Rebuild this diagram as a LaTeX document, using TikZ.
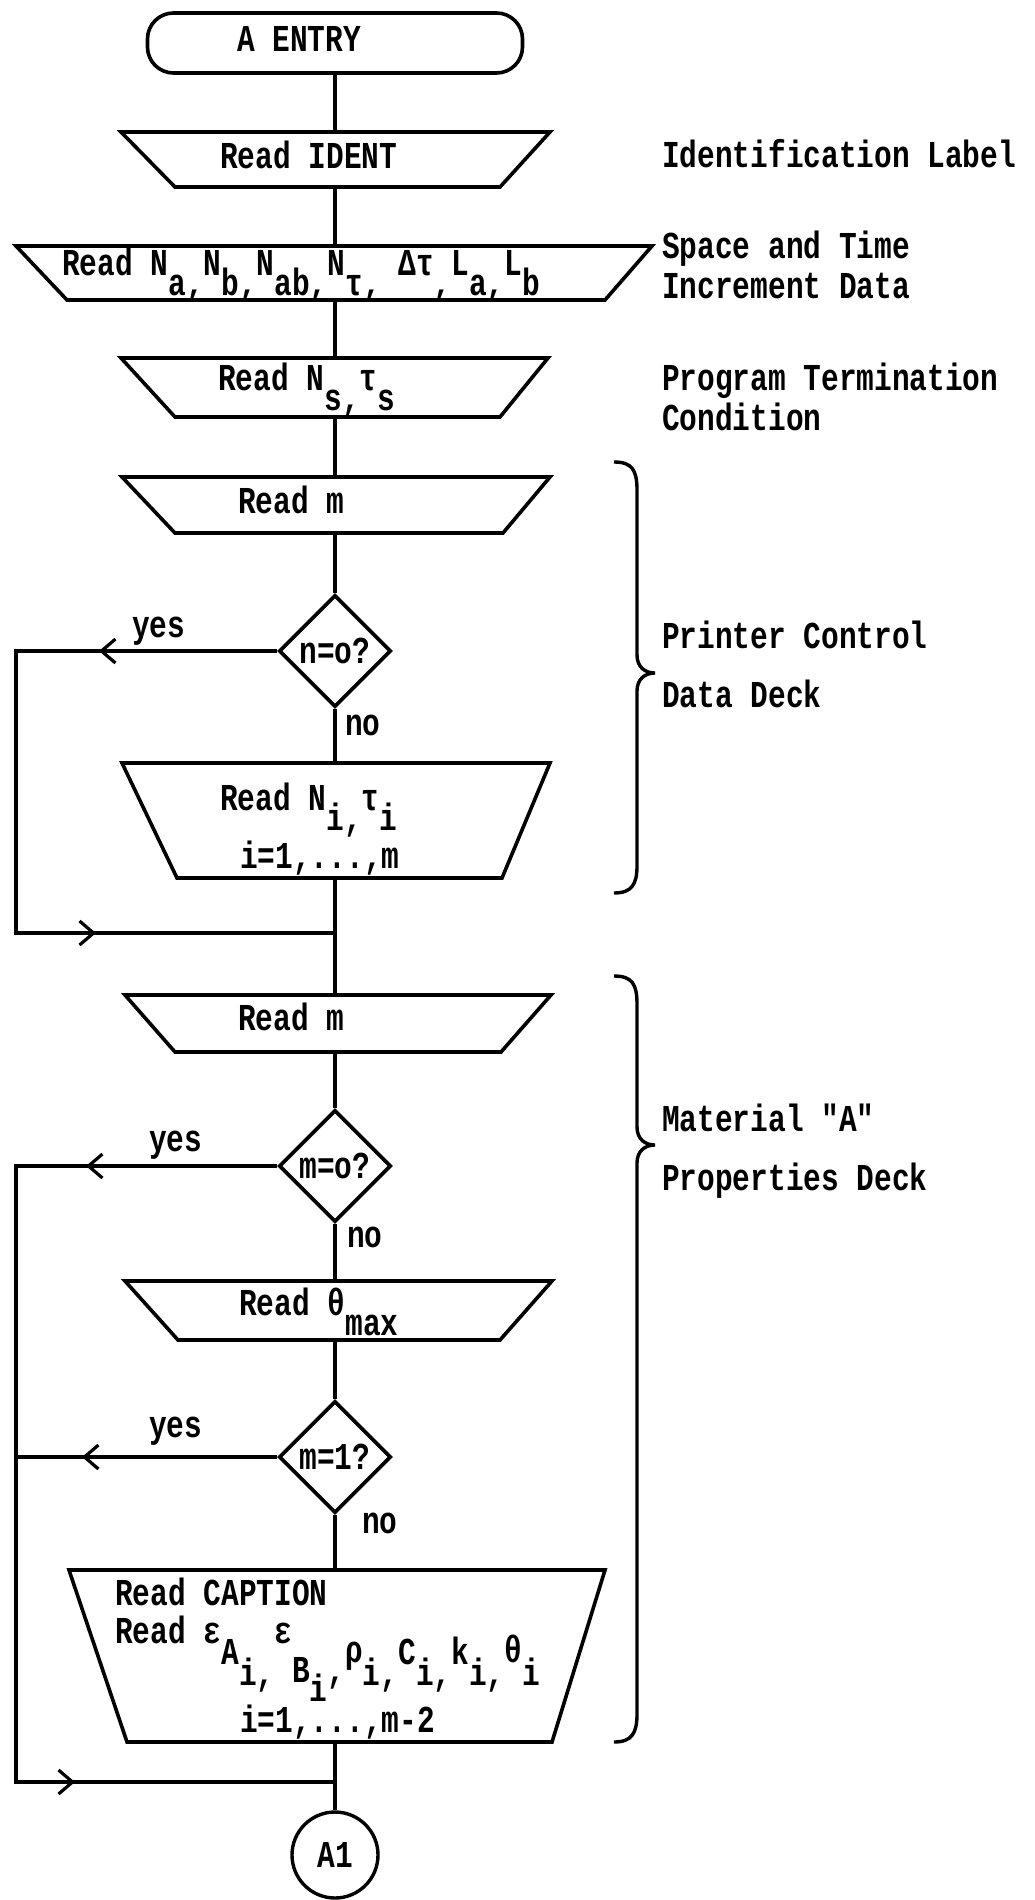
\documentclass[tikz,border=0pt]{standalone}
\usepackage{fontspec}
\setmainfont{Liberation Mono}[FakeStretch=0.776, Ligatures=TeXOff]
\usetikzlibrary{shapes.geometric,arrows.meta}
\newcommand{\lowr}[2][20pt]{\raisebox{-#1}{#2}}
\newcommand{\mytrap}[7]{%
  \draw[shp] (#3,#2) -- (#4,#2) -- (#7,#5) -- (#6,#5) -- cycle;
  \coordinate (#1-t) at (335,#2);
  \coordinate (#1-b) at (335,#5);}
\begin{document}
\begin{tikzpicture}[x=1pt,y=-1pt,
  ln/.style={line width=3.4pt},
  shp/.style={line width=3.6pt, line join=miter},
  arr/.style={line width=3.4pt,-{Straight Barb[length=14pt,width=24pt,line width=3.2pt]}},
  tx/.style={font=\bfseries\fontsize{38}{44}\selectfont, inner sep=0pt, anchor=base west},
  dia/.style={diamond, draw, line width=3.6pt, minimum width=112pt, minimum height=112pt, inner sep=0pt, font=\bfseries\fontsize{38}{44}\selectfont},
  term/.style={draw, line width=3.6pt, rounded corners=26pt, minimum width=375pt, minimum height=60pt, inner sep=0pt},
  conn/.style={circle, draw, line width=3.4pt, minimum size=86pt, inner sep=0pt, font=\bfseries\fontsize{38}{44}\selectfont}]
\fill[white] (0,0) rectangle (1034,1900);
\useasboundingbox (0,0) rectangle (1034,1900);
\coordinate (xleft) at (16,0);

% terminator
\node[term] (entry) at (335,43) {};
\node[tx] (entryT) at (237,52) {A ENTRY};

% trapezoids
\mytrap{ident}{132}{121}{550}{187}{175}{500}
\mytrap{na}{246}{16}{652}{300}{67}{605}
\mytrap{ns}{358}{121}{548}{417}{175}{500}
\mytrap{rm}{477}{122}{550}{533}{175}{503}
\mytrap{ni}{763}{122}{550}{878}{177}{502}
\mytrap{rmb}{995}{125}{551}{1052}{175}{501}
\mytrap{th}{1281}{125}{552}{1340}{178}{500}
\mytrap{cap}{1570}{69}{605}{1742}{127}{552}

% texts in boxes
\node[tx] (identT) at (220,168) {Read IDENT};
\node[tx] (naT) at (62,275) {Read N\lowr{a,}N\lowr{b,}N\lowr{ab,}N\lowr{τ,} Δτ\lowr{,}L\lowr{a,}L\lowr{b}};
\node[tx] (nsT) at (218,390) {Read N\lowr{s,}τ\lowr{s}};
\node[tx] (rmT) at (238,513) {Read m};
\node[tx] (niT) at (220,810) {Read N\lowr{i,}τ\lowr{i}};
\node[tx] (niT2) at (240,868) {i=1,...,m};
\node[tx] (rmbT) at (238,1030) {Read m};
\node[tx] (thT) at (239,1315) {Read θ\lowr{max}};
\node[tx] (capT1) at (115,1605) {Read CAPTION};
\node[tx] (capT2) at (115,1643) {Read ε\lowr[21pt]{A}\lowr[42pt]{i,}ε\lowr[39pt]{B}\lowr[58pt]{i}\lowr[39pt]{,}\lowr[19pt]{ρ}\lowr[42pt]{i,}\lowr[21pt]{C}\lowr[42pt]{i,}\lowr[21pt]{k}\lowr[42pt]{i,}\lowr[19pt]{θ}\lowr[42pt]{i}};
\node[tx] (capT3) at (240,1732) {i=1,...,m-2};

% decisions
\node[dia] (d1) at (335,651) {n=o?};
\node[dia] (d2) at (335,1166) {m=o?};
\node[dia] (d3) at (335,1457) {m=1?};
\node[tx] (y1) at (132,637) {yes};
\node[tx] (n1) at (345,735) {no};
\node[tx] (y2) at (149,1151) {yes};
\node[tx] (n2) at (347,1247) {no};
\node[tx] (y3) at (149,1437) {yes};
\node[tx] (n3) at (362,1533) {no};

% connector
\node[conn] (a1) at (335,1855) {A1};

% main line
\draw[ln] (entry.south) -- (ident-t);
\draw[ln] (ident-b) -- (na-t);
\draw[ln] (na-b) -- (ns-t);
\draw[ln] (ns-b) -- (rm-t);
\draw[ln] (rm-b) -- (d1.north);
\draw[ln] (d1.south) -- (ni-t);
\draw[ln] (ni-b) -- (rmb-t);
\draw[ln] (rmb-b) -- (d2.north);
\draw[ln] (d2.south) -- (th-t);
\draw[ln] (th-b) -- (d3.north);
\draw[ln] (d3.south) -- (cap-t);
\draw[ln] (cap-b) -- (a1.north);

% loops
\coordinate (join1) at (335,933);
\coordinate (join2) at (335,1782);
\coordinate (ay1) at (99,651);
\coordinate (ar1) at (96,933);
\coordinate (ay2) at (86,1166);
\coordinate (ay3) at (82,1457);
\coordinate (ar2) at (75,1782);
\draw[ln] (d1.west) -- (d1.west -| xleft) |- (join1);
\draw[arr] (d1.west) -- (ay1);
\draw[arr] (join1 -| xleft) -- (ar1);
\draw[ln] (d2.west) -- (d2.west -| xleft) |- (join2);
\draw[ln] (d3.west) -- (d3.west -| xleft);
\draw[arr] (d2.west) -- (ay2);
\draw[arr] (d3.west) -- (ay3);
\draw[arr] (join2 -| xleft) -- (ar2);

% braces
\draw[ln] (614,462) .. controls (632,462) and (637,470) .. (637,490) -- (637,655)
  .. controls (637,667) and (645,673) .. (655,673)
  .. controls (645,673) and (637,679) .. (637,691) -- (637,866)
  .. controls (637,884) and (632,893) .. (614,893);
\draw[ln] (614,976) .. controls (632,976) and (637,984) .. (637,1004) -- (637,1127)
  .. controls (637,1139) and (645,1145) .. (655,1145)
  .. controls (645,1145) and (637,1151) .. (637,1163) -- (637,1714)
  .. controls (637,1733) and (632,1742) .. (614,1742);

% side labels
\node[tx] (l1) at (662,167) {Identification Label};
\node[tx] (l2a) at (662,258) {Space and Time};
\node[tx] (l2b) at (662,298) {Increment Data};
\node[tx] (l3a) at (662,390) {Program Termination};
\node[tx] (l3b) at (662,430) {Condition};
\node[tx] (l4a) at (662,648) {Printer Control};
\node[tx] (l4b) at (662,707) {Data Deck};
\node[tx] (l5a) at (662,1131) {Material "A"};
\node[tx] (l5b) at (662,1190) {Properties Deck};
\end{tikzpicture}
\end{document}
